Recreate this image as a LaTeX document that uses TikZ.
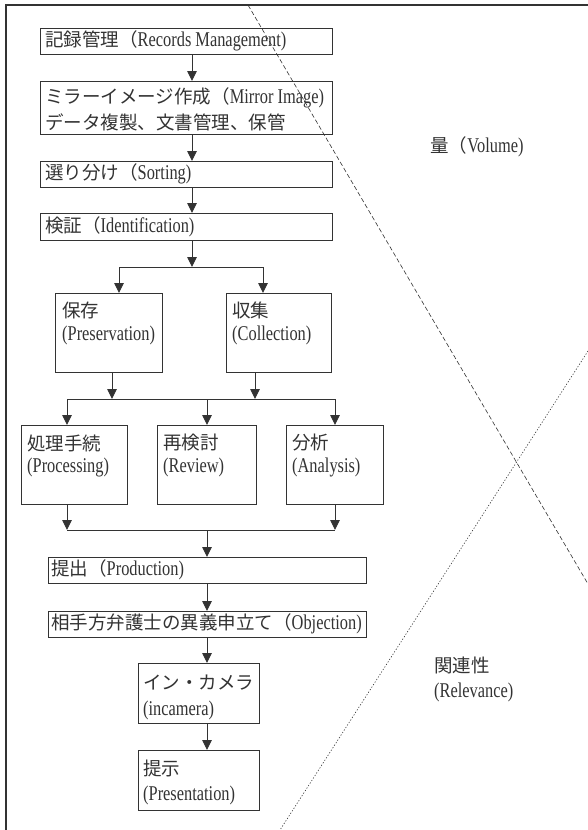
\documentclass[tikz,border=0pt]{standalone}
\usepackage{fontspec}
\setmainfont[FakeStretch=0.78]{Liberation Serif}
\newfontfamily\jpf{Noto Sans CJK JP}
\usetikzlibrary{arrows.meta}
\definecolor{lc}{gray}{0.2}
\definecolor{tc}{gray}{0.2}
\newcommand\jj[1]{{\jpf\fontsize{18.5}{22}\selectfont #1}}
\tikzset{
  box/.style={draw=lc, line width=1pt, inner sep=0pt, outer sep=0pt, anchor=north west},
  txt/.style={anchor=west, inner sep=0pt, text=tc},
  lbl/.style={inner sep=0pt, text=tc},
  arr/.style={draw=lc, line width=0.9pt, -{Triangle[length=10pt,width=9.5pt]}},
  ln/.style={draw=lc, line width=0.9pt},
  frame/.style={draw=lc, line width=1.1pt},
  dashline/.style={draw=lc, line width=0.6pt, dash pattern=on 4.5pt off 2.5pt},
  dotline/.style={draw=lc, line width=0.6pt, dash pattern=on 1.2pt off 1.8pt}
}
\begin{document}
\begin{tikzpicture}[x=1pt,y=-1pt,font=\fontsize{21}{25}\selectfont]
\useasboundingbox[fill=white] (0,0) rectangle (588,830);
% frame
\draw[frame] (6,830) -- (6,5) -- (588,5);
% diagonal guide lines
\coordinate (d1) at (248,5);
\coordinate (d2) at (588,584);
\coordinate (e1) at (588,351);
\coordinate (e2) at (280,830);
\draw[dashline] (d1) -- (d2);
\draw[dotline] (e1) -- (e2);
% boxes
\node[box, minimum width=292pt, minimum height=26pt] (rec) at (40,28) {};
\node[box, minimum width=292pt, minimum height=53pt] (mir) at (40,81) {};
\node[box, minimum width=292pt, minimum height=26pt] (sor) at (40,161) {};
\node[box, minimum width=292pt, minimum height=27pt] (ide) at (40,213) {};
\node[box, minimum width=107pt, minimum height=79pt] (pre) at (55,293) {};
\node[box, minimum width=105pt, minimum height=79pt] (col) at (226,293) {};
\node[box, minimum width=106pt, minimum height=79pt] (proc) at (21,425) {};
\node[box, minimum width=99pt, minimum height=79pt] (rev) at (157,425) {};
\node[box, minimum width=97pt, minimum height=79pt] (ana) at (286,425) {};
\node[box, minimum width=318pt, minimum height=26pt] (prod) at (48,557) {};
\node[box, minimum width=318pt, minimum height=26pt] (obj) at (48,611) {};
\node[box, minimum width=121pt, minimum height=60pt] (inc) at (138,663) {};
\node[box, minimum width=121pt, minimum height=60pt] (pres) at (138,750) {};
% texts
\node[txt] (trec) at (45,41) {\jj{記録管理（}Records Management)};
\node[txt] (tmir1) at (45,98) {\jj{ミラーイメージ作成（}Mirror Image)};
\node[txt] (tmir2) at (45,122) {\jj{データ複製、文書管理、保管}};
\node[txt] (tsor) at (45,174) {\jj{選り分け（}Sorting)};
\node[txt] (tide) at (45,227) {\jj{検証（}Identification)};
\node[txt] (tpre1) at (62,310) {\jj{保存}};
\node[txt] (tpre2) at (62,335) {(Preservation)};
\node[txt] (tcol1) at (232,310) {\jj{収集}};
\node[txt] (tcol2) at (232,335) {(Collection)};
\node[txt] (tproc1) at (27,443) {\jj{処理手続}};
\node[txt] (tproc2) at (27,467) {(Processing)};
\node[txt] (trev1) at (163,443) {\jj{再検討}};
\node[txt] (trev2) at (163,467) {(Review)};
\node[txt] (tana1) at (292,443) {\jj{分析}};
\node[txt] (tana2) at (292,467) {(Analysis)};
\node[txt] (tprod) at (51,570) {\jj{提出（}Production)};
\node[txt] (tobj) at (51,624) {\jj{相手方弁護士の異義申立て（}Objection)};
\node[txt] (tinc1) at (143,683) {\jj{イン・カメラ}};
\node[txt] (tinc2) at (143,710) {(incamera)};
\node[txt] (tpres1) at (143,768) {\jj{提示}};
\node[txt] (tpres2) at (143,795) {(Presentation)};
\node[lbl] (vol) at (477,147) {\jj{量（}Volume)};
\node[txt] (rel1) at (434,665) {\jj{関連性}};
\node[txt] (rel2) at (434,692) {(Relevance)};
% connector coordinates
\coordinate (ux) at (192,0);
\coordinate (lx) at (207,0);
\coordinate (split) at (192,267);
\coordinate (splitL) at (119,267);
\coordinate (splitR) at (263,267);
\coordinate (pa) at (112,0);
\coordinate (ca) at (255,0);
\coordinate (m1L) at (67,399);
\coordinate (m1C) at (207,399);
\coordinate (m1R) at (335,399);
\coordinate (m2L) at (67,530);
\coordinate (m2C) at (207,530);
\coordinate (m2R) at (335,530);
% connectors
\draw[arr] (rec.south -| ux) -- (mir.north -| ux);
\draw[arr] (mir.south -| ux) -- (sor.north -| ux);
\draw[arr] (sor.south -| ux) -- (ide.north -| ux);
\draw[arr] (ide.south -| ux) -- (split);
\draw[ln] (splitL) -- (splitR);
\draw[arr] (splitL) -- (pre.north -| splitL);
\draw[arr] (splitR) -- (col.north -| splitR);
\draw[arr] (pre.south -| pa) -- (m1L -| pa);
\draw[arr] (col.south -| ca) -- (m1L -| ca);
\draw[ln] (m1L) -- (m1R);
\draw[arr] (m1L) -- (proc.north -| m1L);
\draw[arr] (m1C) -- (rev.north -| m1C);
\draw[arr] (m1R) -- (ana.north -| m1R);
\draw[arr] (proc.south -| m2L) -- (m2L);
\draw[arr] (ana.south -| m2R) -- (m2R);
\draw[ln] (m2L) -- (m2R);
\draw[arr] (m2C) -- (prod.north -| m2C);
\draw[arr] (prod.south -| lx) -- (obj.north -| lx);
\draw[arr] (obj.south -| lx) -- (inc.north -| lx);
\draw[arr] (inc.south -| lx) -- (pres.north -| lx);
\end{tikzpicture}
\end{document}
